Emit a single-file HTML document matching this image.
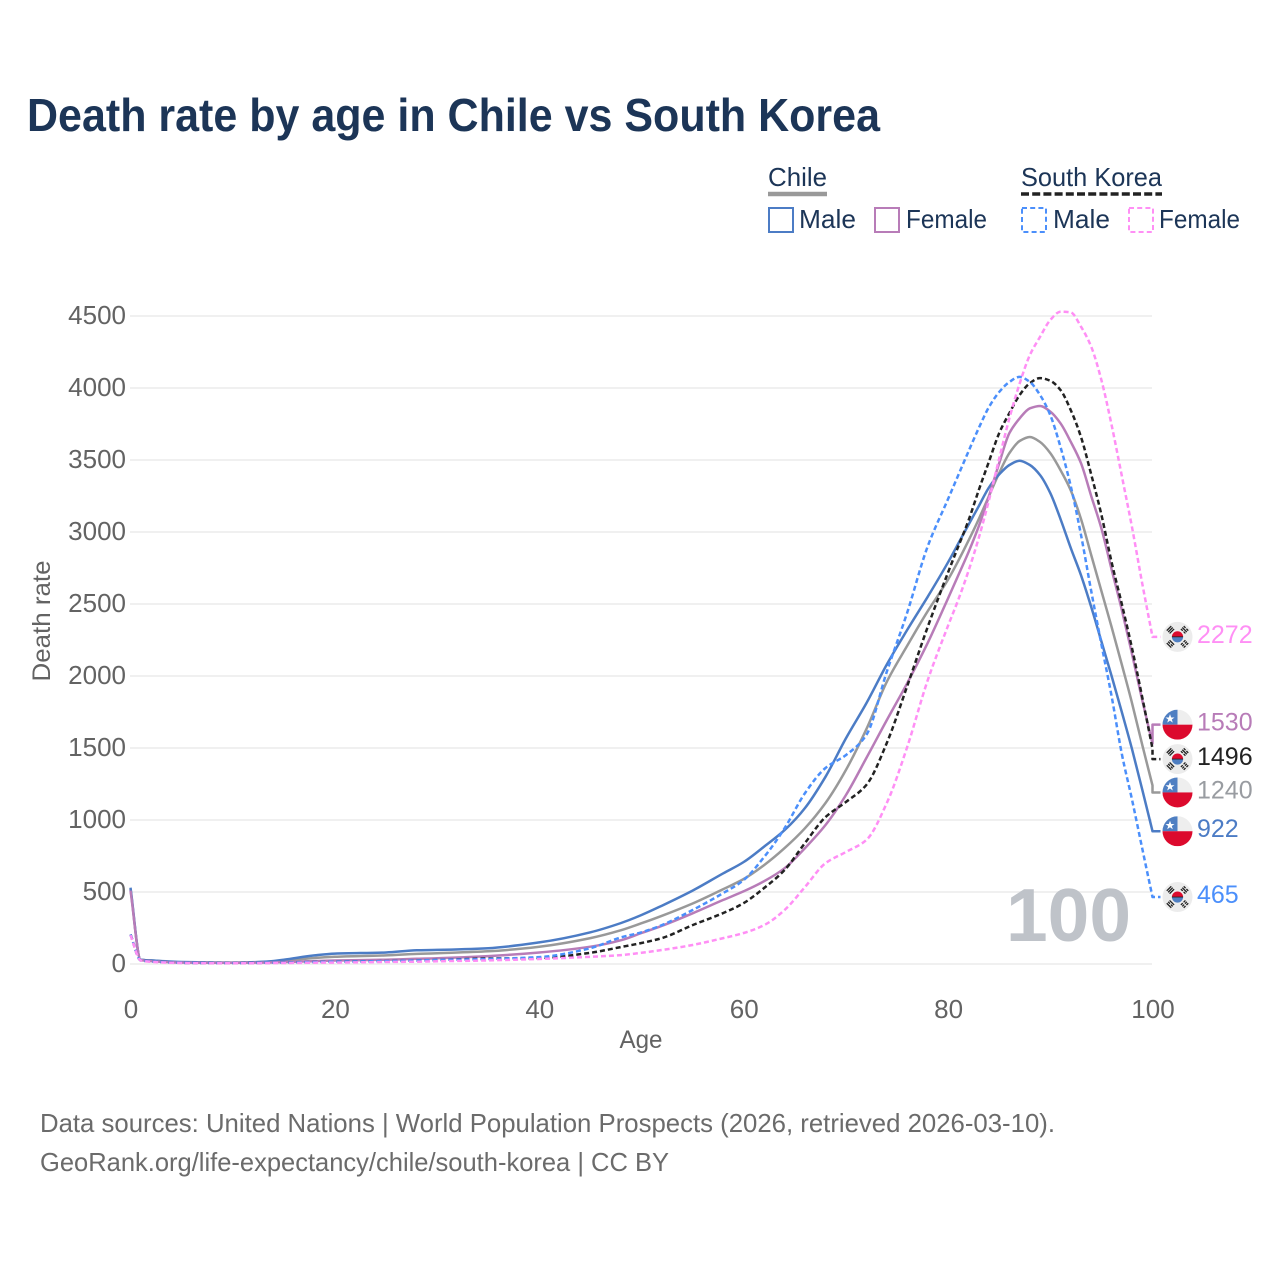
<!DOCTYPE html>
<html lang="en">
<head>
<meta charset="utf-8">
<title>Death rate by age in Chile vs South Korea</title>
<style>
html,body{margin:0;padding:0;background:#fff;width:1280px;height:1280px;overflow:hidden}
svg{display:block}
text{font-family:"Liberation Sans",sans-serif}
</style>
</head>
<body>
<svg id="chart" xmlns="http://www.w3.org/2000/svg" width="1280" height="1280" viewBox="0 0 1280 1280">
  <defs>
    <clipPath id="flag-clip"><circle cx="0" cy="0" r="15"/></clipPath>
    <symbol id="flag-chile" viewBox="-15 -15 30 30" width="30" height="30" overflow="visible">
      <g clip-path="url(#flag-clip)">
        <rect x="-15" y="-15" width="30" height="15" fill="#eeeeee"/>
        <rect x="-15" y="-15" width="15" height="15" fill="#4f7fc2"/>
        <rect x="-15" y="0" width="30" height="15" fill="#dc0a2d"/>
        <polygon points="-7.5,-10.5 -6.3,-7.2 -3,-7.2 -5.7,-5.2 -4.7,-2 -7.5,-4 -10.3,-2 -9.3,-5.2 -12,-7.2 -8.7,-7.2" fill="#ffffff"/>
      </g>
    </symbol>
    <symbol id="flag-korea" viewBox="-15 -15 30 30" width="30" height="30" overflow="visible">
      <circle cx="0" cy="0" r="15" fill="#ececec"/>
      <path d="M-5.6,0 A5.6,5.6 0 0 1 5.6,0 Z" fill="#dc0a2d"/>
      <path d="M-5.6,0 A5.6,5.6 0 0 0 5.6,0 Z" fill="#4f7fc2"/>
      <line x1="-5.6" y1="0" x2="5.6" y2="0" stroke="#222" stroke-width="0.8"/>
      <g stroke="#222" stroke-width="1.3" fill="none">
        <g transform="rotate(-45)"><path d="M-3.2,-8H3.2M-3.2,-10H3.2M-3.2,-12H3.2"/></g>
        <g transform="rotate(45)"><path d="M-3.2,-8H-0.6M0.6,-8H3.2M-3.2,-10H3.2M-3.2,-12H-0.6M0.6,-12H3.2"/></g>
        <g transform="rotate(-135)"><path d="M-3.2,-8H3.2M-3.2,-10H-0.6M0.6,-10H3.2M-3.2,-12H3.2"/></g>
        <g transform="rotate(135)"><path d="M-3.2,-8H-0.6M0.6,-8H3.2M-3.2,-10H-0.6M0.6,-10H3.2M-3.2,-12H-0.6M0.6,-12H3.2"/></g>
      </g>
    </symbol>
  </defs>

  <text x="27" y="131" font-size="46" font-weight="700" fill="#1c3557" textLength="853" lengthAdjust="spacingAndGlyphs">Death rate by age in Chile vs South Korea</text>

  <g>
    <text x="768" y="186" font-size="26" fill="#1c3557" textLength="59" lengthAdjust="spacingAndGlyphs">Chile</text>
    <line x1="768" y1="194" x2="827" y2="194" stroke="#999999" stroke-width="4.5"/>
    <text x="1021" y="186" font-size="26" fill="#1c3557" textLength="141" lengthAdjust="spacingAndGlyphs">South Korea</text>
    <line x1="1021" y1="194" x2="1162" y2="194" stroke="#222222" stroke-width="3.5" stroke-dasharray="8 3.2"/>

    <rect x="769" y="208" width="24" height="24" fill="none" stroke="#4c7cc5" stroke-width="2"/>
    <text x="799" y="228" font-size="26" fill="#1c3557" textLength="57" lengthAdjust="spacingAndGlyphs">Male</text>
    <rect x="875" y="208" width="24" height="24" fill="none" stroke="#b87cb8" stroke-width="2"/>
    <text x="906" y="228" font-size="26" fill="#1c3557" textLength="81" lengthAdjust="spacingAndGlyphs">Female</text>
    <rect x="1022" y="208" width="24" height="24" fill="none" stroke="#4b8ffb" stroke-width="2" stroke-dasharray="5 3.2"/>
    <text x="1053" y="228" font-size="26" fill="#1c3557" textLength="57" lengthAdjust="spacingAndGlyphs">Male</text>
    <rect x="1129" y="208" width="24" height="24" fill="none" stroke="#ff8ff5" stroke-width="2" stroke-dasharray="5 3.2"/>
    <text x="1159" y="228" font-size="26" fill="#1c3557" textLength="81" lengthAdjust="spacingAndGlyphs">Female</text>
  </g>

  <g id="grid"></g>
  <g id="y-axis"></g>
  <g id="x-axis"></g>

  <text transform="translate(50,621) rotate(-90)" text-anchor="middle" font-size="25" fill="#636363" textLength="121" lengthAdjust="spacingAndGlyphs">Death rate</text>
  <text x="641" y="1048" text-anchor="middle" font-size="25" fill="#636363" textLength="43" lengthAdjust="spacingAndGlyphs">Age</text>

  <text x="1006" y="941" font-size="75" font-weight="700" fill="#bfc3c9" textLength="125" lengthAdjust="spacingAndGlyphs">100</text>

  <g id="series"></g>
  <g id="end-labels"></g>

  <text x="40" y="1132" font-size="26" fill="#6b6b6b" textLength="1015" lengthAdjust="spacingAndGlyphs">Data sources: United Nations | World Population Prospects (2026, retrieved 2026-03-10).</text>
  <text x="40" y="1171" font-size="26" fill="#6b6b6b" textLength="629" lengthAdjust="spacingAndGlyphs">GeoRank.org/life-expectancy/chile/south-korea | CC BY</text>
</svg>

<script>
const ages = [0,1,2,5,10,13,15,18,20,25,28,30,35,40,45,48,50,52,55,58,60,62,64,66,68,70,72,74,76,78,80,81,82,83,84,85,86,87,88,89,90,91,92,93,94,95,96,97,98,99,100];
const chileBoth = [520,30,25,12,10,14,22,42,50,60,70,75,88,120,180,235,283,335,420,520,590,687,805,943,1118,1347,1630,1960,2210,2450,2670,2800,2940,3090,3250,3410,3548,3632,3660,3625,3548,3430,3290,3090,2840,2590,2340,2080,1810,1520,1240];
const chileMale = [530,30,25,14,10,15,30,60,72,80,95,98,110,150,220,285,340,405,510,630,708,815,930,1083,1300,1567,1810,2080,2320,2550,2790,2920,3050,3180,3310,3400,3465,3495,3465,3395,3270,3090,2890,2700,2480,2240,2000,1750,1490,1210,922];
const chileFemale = [510,28,20,10,8,10,13,20,24,30,36,40,55,80,120,165,215,265,352,445,505,575,665,805,965,1173,1430,1694,1950,2230,2540,2700,2860,3040,3250,3478,3687,3789,3859,3875,3836,3755,3627,3478,3250,3025,2740,2460,2150,1830,1530];
const koreaBoth = [205,25,18,8,6,8,10,14,16,20,24,28,38,42,78,118,146,180,270,354,423,528,653,840,1020,1125,1243,1535,1930,2340,2720,2900,3080,3292,3490,3687,3826,3951,4034,4069,4050,3986,3847,3660,3400,3120,2790,2500,2190,1850,1496];
const koreaMale = [205,25,18,8,6,8,10,14,16,20,24,28,35,48,110,185,220,270,375,493,583,743,943,1187,1361,1451,1590,2030,2440,2900,3230,3395,3560,3722,3868,3972,4042,4077,4042,3951,3812,3590,3320,2980,2590,2220,1860,1460,1139,800,465];
const koreaFemale = [200,25,15,7,5,6,7,9,10,14,16,19,25,35,50,62,78,97,132,180,215,270,375,535,700,778,861,1118,1507,1970,2350,2530,2730,2960,3222,3510,3790,4030,4229,4356,4472,4530,4525,4426,4287,4055,3743,3390,3030,2640,2272];
const yTickValues = [0,500,1000,1500,2000,2500,3000,3500,4000,4500];
const xTickValues = [0,20,40,60,80,100];

const SVGNS = 'http://www.w3.org/2000/svg';
const xScale = function (age) { return 130.5 + age * 10.22; };
const yScale = function (v) { return 964 - v * 0.144; };
const PLOT_LEFT = 130, PLOT_RIGHT = 1152;

const gridG = document.getElementById('grid');
const yAxisG = document.getElementById('y-axis');
const xAxisG = document.getElementById('x-axis');
const seriesG = document.getElementById('series');
const labelsG = document.getElementById('end-labels');

yTickValues.forEach(function (v) {
  const line = document.createElementNS(SVGNS, 'line');
  
  
  line.setAttribute('x1', PLOT_LEFT);
  line.setAttribute('x2', PLOT_RIGHT);
  line.setAttribute('y1', yScale(v));
  line.setAttribute('y2', yScale(v));
  line.setAttribute('stroke', '#f0f0f0');
  line.setAttribute('stroke-width', '2');
  gridG.appendChild(line);

  const t = document.createElementNS(SVGNS, 'text');
  
  
  t.setAttribute('x', 126);
  t.setAttribute('y', yScale(v) + 8);
  t.setAttribute('text-anchor', 'end');
  t.setAttribute('font-size', '26');
  t.setAttribute('fill', '#636363');
  t.textContent = v;
  yAxisG.appendChild(t);
});

xTickValues.forEach(function (v) {
  const t = document.createElementNS(SVGNS, 'text');
  
  
  t.setAttribute('x', xScale(v) + 0.5);
  t.setAttribute('y', 1018);
  t.setAttribute('text-anchor', 'middle');
  t.setAttribute('font-size', '26');
  t.setAttribute('fill', '#636363');
  t.textContent = v;
  xAxisG.appendChild(t);
});

// Monotone cubic path through the data points, so the curve stays smooth without overshoot.
function smoothPath(xs, ys) {
  const n = xs.length;
  const dx = [], slope = [], tan = [];
  for (let i = 0; i < n - 1; i++) {
    dx.push(xs[i + 1] - xs[i]);
    slope.push((ys[i + 1] - ys[i]) / dx[i]);
  }
  tan.push(slope[0]);
  for (let i = 1; i < n - 1; i++) {
    if (slope[i - 1] * slope[i] <= 0) {
      tan.push(0);
    } else {
      const w1 = 2 * dx[i] + dx[i - 1], w2 = dx[i] + 2 * dx[i - 1];
      tan.push((w1 + w2) / (w1 / slope[i - 1] + w2 / slope[i]));
    }
  }
  tan.push(slope[n - 2]);
  let d = 'M' + xs[0].toFixed(1) + ',' + ys[0].toFixed(1);
  for (let i = 0; i < n - 1; i++) {
    const h = dx[i] / 3;
    d += ' C' + (xs[i] + h).toFixed(1) + ',' + (ys[i] + tan[i] * h).toFixed(1) +
         ' ' + (xs[i + 1] - h).toFixed(1) + ',' + (ys[i + 1] - tan[i + 1] * h).toFixed(1) +
         ' ' + xs[i + 1].toFixed(1) + ',' + ys[i + 1].toFixed(1);
  }
  return d;
}

function drawSeries(name, values, color, dash, flag, labelShift, textColor) {
  const xs = ages.map(xScale);
  const ys = values.map(yScale);
  const d = smoothPath(xs, ys);
  const last = values[values.length - 1];
  const endY = yScale(last);
  const labelY = endY + labelShift;
  const endX = xScale(ages[ages.length - 1]);

  const path = document.createElementNS(SVGNS, 'path');
  
  
  path.setAttribute('d', d + ' L' + endX + ',' + labelY + ' L' + (endX + 8) + ',' + labelY);
  path.setAttribute('fill', 'none');
  path.setAttribute('stroke', color);
  path.setAttribute('stroke-width', '2.5');
  path.setAttribute('stroke-linejoin', 'round');
  if (dash) path.setAttribute('stroke-dasharray', dash);
  seriesG.appendChild(path);

  const use = document.createElementNS(SVGNS, 'use');
  
  
  use.setAttribute('href', '#' + flag);
  use.setAttribute('x', endX + 10);
  use.setAttribute('y', labelY - 15);
  use.setAttribute('width', '30');
  use.setAttribute('height', '30');
  labelsG.appendChild(use);

  const t = document.createElementNS(SVGNS, 'text');
  
  
  t.setAttribute('x', endX + 44.5);
  t.setAttribute('y', labelY + 6);
  t.setAttribute('font-size', '25');
  t.setAttribute('fill', textColor);
  t.textContent = last;
  labelsG.appendChild(t);
}

drawSeries('chile-both', chileBoth, '#999999', null, 'flag-chile', 7, '#999ca1');
drawSeries('chile-male', chileMale, '#4c7cc5', null, 'flag-chile', 0, '#4c7cc5');
drawSeries('chile-female', chileFemale, '#b87cb8', null, 'flag-chile', -19, '#b87cb8');
drawSeries('korea-both', koreaBoth, '#222222', '5 3', 'flag-korea', 10.5, '#222222');
drawSeries('korea-male', koreaMale, '#4b8ffb', '5 3', 'flag-korea', 0, '#4b8ffb');
drawSeries('korea-female', koreaFemale, '#ff8ff5', '5 3', 'flag-korea', 0, '#ff8ff5');
</script>
</body>
</html>
